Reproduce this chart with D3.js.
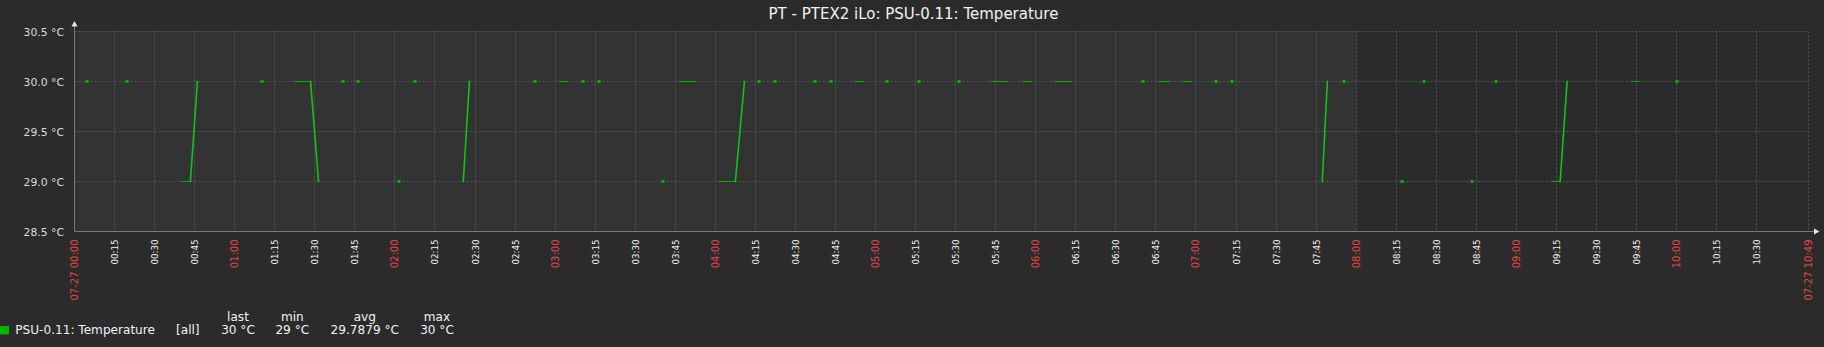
<!DOCTYPE html>
<html><head><meta charset="utf-8">
<script src="https://cdn.jsdelivr.net/npm/d3@7"></script>
<style>
html,body{margin:0;padding:0;background:#2b2b2b;}
svg{display:block;font-family:"DejaVu Sans",sans-serif;}
</style></head><body>
<svg id="chart" width="1824" height="347"></svg>
<script>
// ---------------- data ----------------
const chartTitle = "PT - PTEX2 iLo: PSU-0.11: Temperature";
const seriesName = "PSU-0.11: Temperature";
const startTime = "2023-07-27 00:00:00";
const endTime = "2023-07-27 10:49:24";
const nonWorkStart = "2023-07-27 00:00:00";
const nonWorkEnd = "2023-07-27 08:00:00";
// minutes after 00:00 ; null marks a gap between runs of samples
const sampleMinutes = [4.5, null, 19.5, null, 40.4, 43.4, 46.05, null, 70.4, null,
  82.4, 88.4, 91.4, null, 100.7, null, 106.3, null, 121.7, null, 127.7, null,
  145.6, 147.9, null, 172.6, null, 181.5, 184.5, null, 190.6, null, 196.6, null,
  220.5, null, 226.4, 232.4, null, 241.4, 247.5, 250.9, null, 256.5, null, 262.5, null,
  277.4, null, 283.4, null, 292.3, 295.3, null, 304.4, null, 316.4, null, 331.4, null,
  343.2, 349.2, null, 355.2, 358.2, null, 367.2, 373.2, null, 400.3, null,
  406.1, 410.2, null, 415.1, 418.1, null, 427.6, null, 433.6, null,
  467.3, 469.2, null, 475.5, null, 497.2, null, 505.5, null, 523.4, null, 532.4, null,
  553.3, 556.4, 559.0, null, 583.2, 586.1, null, 600.2];
const sampleValues = [30, null, 30, null, 29, 29, 30, null, 30, null,
  30, 30, 29, null, 30, null, 30, null, 29, null, 30, null,
  29, 30, null, 30, null, 30, 30, null, 30, null, 30, null,
  29, null, 30, 30, null, 29, 29, 30, null, 30, null, 30, null,
  30, null, 30, null, 30, 30, null, 30, null, 30, null, 30, null,
  30, 30, null, 30, 30, null, 30, 30, null, 30, null,
  30, 30, null, 30, 30, null, 30, null, 30, null,
  29, 30, null, 30, null, 29, null, 30, null, 29, null, 30, null,
  29, 29, 30, null, 30, 30, null, 30];
const yTicks = [28.5, 29.0, 29.5, 30.0, 30.5];
const yTickLabels = ["28.5 °C", "29.0 °C", "29.5 °C", "30.0 °C", "30.5 °C"];
const legendHeaders = ["last", "min", "avg", "max"];
const legendValues = ["30 °C", "29 °C", "29.7879 °C", "30 °C"];
const legendScope = "[all]";

// ---------------- layout ----------------
const W = 1824, H = 347;
const plot = {left: 74.5, right: 1808.5, top: 31.5, bottom: 231.5};
const C = {
  bg: "#2b2b2b", nonWork: "#333333", grid: "#555555", axis: "#7a7a7a",
  text: "#f2f2f2", label: "#dcdcdc", highlight: "#e34646", series: "#00b400",
  seriesLine: "#14c314"
};

const parse = d3.timeParse("%Y-%m-%d %H:%M:%S");
const t0 = parse(startTime), t1 = parse(endTime);
const x = d3.scaleTime().domain([t0, t1]).range([plot.left, plot.right]);
const y = d3.scaleLinear().domain([28.5, 30.5]).range([plot.bottom, plot.top]);
const crisp = v => Math.round(v - 0.5) + 0.5;

const svg = d3.select("#chart");
svg.append("rect").attr("width", W).attr("height", H).attr("fill", C.bg);

// non-work time shading
svg.append("rect")
  .attr("x", x(parse(nonWorkStart)) - 0.5).attr("y", plot.top - 0.5)
  .attr("width", x(parse(nonWorkEnd)) - x(parse(nonWorkStart)))
  .attr("height", plot.bottom - plot.top + 0.5)
  .attr("fill", C.nonWork);

// title
svg.append("text").attr("x", 913.5).attr("y", 19)
  .attr("text-anchor", "middle").attr("font-size", 15).attr("fill", C.text)
  .text(chartTitle);

// grid: horizontal
const g = svg.append("g");
yTicks.forEach(v => {
  if (v === 28.5) return;
  g.append("line").attr("x1", plot.left).attr("x2", plot.right)
    .attr("y1", crisp(y(v))).attr("y2", crisp(y(v)))
    .attr("stroke", C.grid).attr("stroke-dasharray", "2,2");
});
// grid: vertical every 15 min
const ticks = d3.timeMinute.every(15).range(t0, t1)
  .filter(t => (t1 - t) > 7.5 * 60000);
ticks.forEach(t => {
  if (+t === +t0) return;
  g.append("line").attr("x1", crisp(x(t))).attr("x2", crisp(x(t)))
    .attr("y1", plot.top).attr("y2", plot.bottom)
    .attr("stroke", C.grid).attr("stroke-dasharray", "2,2");
});
g.append("line").attr("x1", crisp(x(t1))).attr("x2", crisp(x(t1)))
  .attr("y1", plot.top).attr("y2", plot.bottom)
  .attr("stroke", C.grid).attr("stroke-dasharray", "2,2");

// axes
svg.append("line").attr("x1", plot.left).attr("x2", plot.left)
  .attr("y1", 26).attr("y2", plot.bottom).attr("stroke", C.axis);
svg.append("line").attr("x1", plot.left).attr("x2", 1814)
  .attr("y1", plot.bottom).attr("y2", plot.bottom).attr("stroke", C.axis);
svg.append("path").attr("d", `M${plot.left - 3},26.5 L${plot.left},21 L${plot.left + 3},26.5 Z`)
  .attr("fill", "#e8e8e8");
svg.append("path").attr("d", `M1814,${plot.bottom - 3} L1819.5,${plot.bottom} L1814,${plot.bottom + 3} Z`)
  .attr("fill", "#e8e8e8");

// y labels
yTicks.forEach((v, i) => {
  svg.append("text").attr("x", 64).attr("y", y(v) + 4)
    .attr("text-anchor", "end").attr("font-size", 10.8).attr("fill", C.label)
    .text(yTickLabels[i]);
});

// x labels
const fmtHM = d3.timeFormat("%H:%M"), fmtFull = d3.timeFormat("%m-%d %H:%M");
function xLabel(t, txt, red) {
  const fs = red ? 10 : 8.7;
  svg.append("text")
    .attr("transform", `translate(${crisp(x(t))},239.5) rotate(-90)`)
    .attr("text-anchor", "end").attr("dy", "0.36em")
    .attr("font-size", fs).attr("fill", red ? C.highlight : C.text)
    .text(txt);
}
ticks.forEach(t => {
  if (+t === +t0) { xLabel(t, fmtFull(t), true); return; }
  xLabel(t, fmtHM(t), t.getMinutes() === 0);
});
xLabel(t1, fmtFull(t1), true);

// data runs
const runs = [];
let cur = [];
sampleMinutes.forEach((m, i) => {
  if (m === null || sampleValues[i] === null) {
    if (cur.length) runs.push(cur);
    cur = [];
  } else {
    cur.push({t: d3.timeSecond.offset(t0, Math.round(m * 60)), v: sampleValues[i]});
  }
});
if (cur.length) runs.push(cur);

const line = d3.line().x(d => x(d.t)).y(d => crisp(y(d.v)));
const dataG = svg.append("g");
runs.forEach(r => {
  if (r.length === 1) {
    dataG.append("rect")
      .attr("x", Math.round(x(r[0].t)) - 1.5).attr("y", crisp(y(r[0].v)) - 1.5)
      .attr("width", 3).attr("height", 3).attr("fill", C.series);
  } else {
    d3.pairs(r).forEach(([a, b]) => {
      const flat = a.v === b.v;
      dataG.append("path").attr("d", line([a, b])).attr("fill", "none")
        .attr("stroke", flat ? C.series : C.seriesLine)
        .attr("stroke-width", flat ? 1 : 1.6)
        .attr("stroke-linecap", "square");
    });
  }
});

// legend
const legendFont = 12.1;
svg.append("rect").attr("x", 0).attr("y", 326).attr("width", 9).attr("height", 8.5)
  .attr("fill", C.series);
svg.append("text").attr("x", 15.3).attr("y", 334.3).attr("font-size", legendFont)
  .attr("fill", C.text).text(seriesName);
svg.append("text").attr("x", 176).attr("y", 334.3).attr("font-size", legendFont)
  .attr("fill", C.text).text(legendScope);
const legendX = [238, 292.3, 364.8, 437];
legendHeaders.forEach((h, i) => {
  svg.append("text").attr("x", legendX[i]).attr("y", 321).attr("text-anchor", "middle")
    .attr("font-size", legendFont).attr("fill", C.text).text(h);
  svg.append("text").attr("x", legendX[i]).attr("y", 334.3).attr("text-anchor", "middle")
    .attr("font-size", legendFont).attr("fill", C.text).text(legendValues[i]);
});
</script>
</body></html>
